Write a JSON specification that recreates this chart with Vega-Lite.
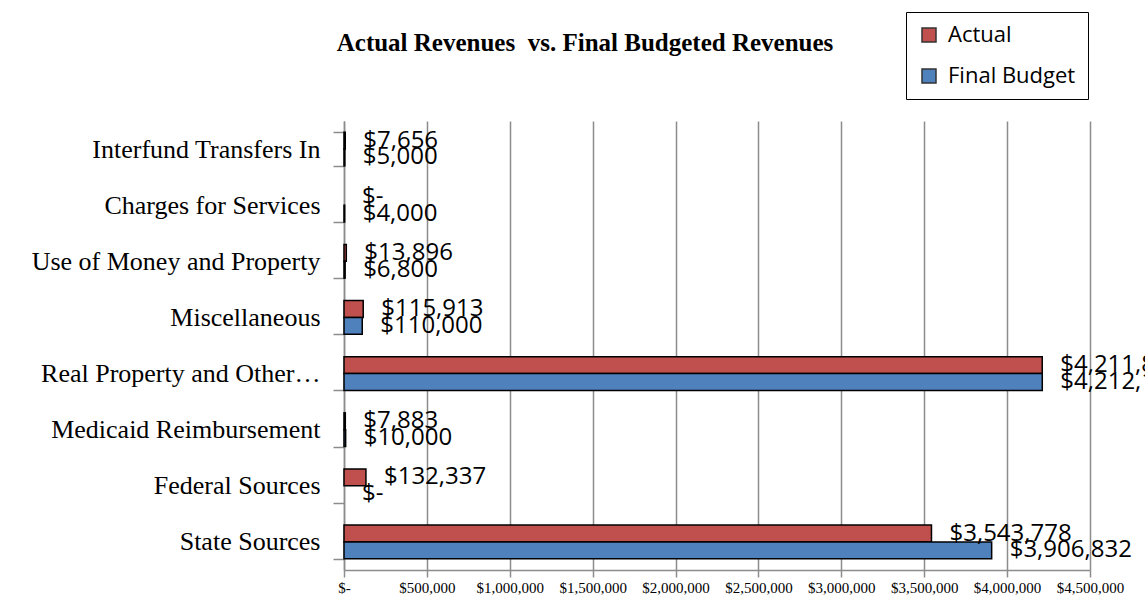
{
  "$schema": "https://vega.github.io/schema/vega-lite/v6.json",
  "width": 746,
  "height": 449,
  "autosize": {"type": "none"},
  "padding": {"left": 344, "top": 121, "right": 55, "bottom": 44},
  "background": "white",
  "title": {
    "text": "Actual Revenues \u00a0vs. Final Budgeted Revenues",
    "font": "Liberation Serif",
    "fontSize": 25,
    "fontWeight": "bold",
    "color": "black",
    "anchor": "middle",
    "frame": "group",
    "dx": -132,
    "offset": -44
  },
  "data": {
    "values": [
      {"category": "Interfund Transfers In", "series": "Actual", "value": 7656},
      {"category": "Interfund Transfers In", "series": "Final Budget", "value": 5000},
      {"category": "Charges for Services", "series": "Actual", "value": 0},
      {"category": "Charges for Services", "series": "Final Budget", "value": 4000},
      {"category": "Use of Money and Property", "series": "Actual", "value": 13896},
      {"category": "Use of Money and Property", "series": "Final Budget", "value": 6800},
      {"category": "Miscellaneous", "series": "Actual", "value": 115913},
      {"category": "Miscellaneous", "series": "Final Budget", "value": 110000},
      {"category": "Real Property and Other…", "series": "Actual", "value": 4211831},
      {"category": "Real Property and Other…", "series": "Final Budget", "value": 4212129},
      {"category": "Medicaid Reimbursement", "series": "Actual", "value": 7883},
      {"category": "Medicaid Reimbursement", "series": "Final Budget", "value": 10000},
      {"category": "Federal Sources", "series": "Actual", "value": 132337},
      {"category": "Federal Sources", "series": "Final Budget", "value": 0},
      {"category": "State Sources", "series": "Actual", "value": 3543778},
      {"category": "State Sources", "series": "Final Budget", "value": 3906832}
    ]
  },
  "encoding": {
    "y": {
      "field": "category",
      "type": "nominal",
      "sort": null,
      "scale": {"paddingInner": 0.4, "paddingOuter": 0.2},
      "axis": {
        "title": null,
        "labelFont": "Liberation Serif",
        "labelFontSize": 26,
        "labelColor": "black",
        "labelLimit": 400,
        "tickBand": "extent",
        "tickSize": 11,
        "tickColor": "#8c8c8c",
        "tickWidth": 1.5,
        "domainColor": "#8c8c8c",
        "domainWidth": 1.5,
        "labelPadding": 13,
        "grid": false
      }
    },
    "yOffset": {"field": "series", "type": "nominal", "sort": ["Actual", "Final Budget"]},
    "x": {
      "field": "value",
      "type": "quantitative",
      "scale": {"domain": [0, 4500000], "nice": false},
      "axis": {
        "title": null,
        "values": [0, 500000, 1000000, 1500000, 2000000, 2500000, 3000000, 3500000, 4000000, 4500000],
        "labelExpr": "datum.value == 0 ? '$-' : '$' + format(datum.value, ',')",
        "labelFont": "Liberation Serif",
        "labelFontSize": 15,
        "labelColor": "black",
        "labelPadding": 3,
        "tickSize": 7,
        "tickColor": "#8c8c8c",
        "tickWidth": 1.5,
        "domainColor": "#8c8c8c",
        "domainWidth": 1.5,
        "grid": true,
        "gridColor": "#8c8c8c",
        "gridWidth": 1.5,
        "labelFlush": false
      }
    }
  },
  "layer": [
    {
      "mark": {"type": "bar", "stroke": "black"},
      "encoding": {
        "color": {
          "field": "series",
          "type": "nominal",
          "sort": ["Actual", "Final Budget"],
          "scale": {"domain": ["Actual", "Final Budget"], "range": ["#C0504D", "#4F81BD"]},
          "legend": {
            "title": null,
            "orient": "none",
            "legendX": 562,
            "legendY": -109,
            "strokeColor": "black",
            "fillColor": "white",
            "padding": 12,
            "rowPadding": 19,
            "symbolType": "square",
            "symbolSize": 196,
            "symbolStrokeColor": "#333333",
            "symbolStrokeWidth": 1.5,
            "labelFont": "Open Sans",
            "labelFontSize": 22,
            "labelColor": "black",
            "labelOffset": 8,
            "labelLimit": 300
          }
        },
        "strokeWidth": {"condition": {"test": "datum.value == 0", "value": 0}, "value": 1.5}
      }
    },
    {
      "mark": {"type": "text", "align": "left", "baseline": "middle", "dx": 18, "font": "Open Sans", "fontSize": 24, "color": "black"},
      "encoding": {
        "text": {"condition": {"test": "datum.value == 0", "value": "$-"}, "field": "value", "type": "quantitative", "format": "$,"}
      }
    }
  ],
  "config": {
    "view": {"stroke": null}
  }
}
